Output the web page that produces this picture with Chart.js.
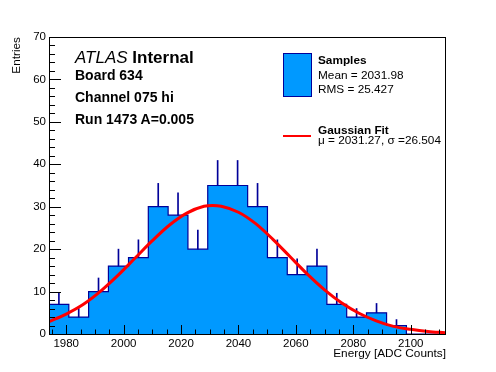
<!DOCTYPE html>
<html>
<head>
<meta charset="utf-8">
<script src="https://cdn.jsdelivr.net/npm/chart.js@4.4.1/dist/chart.umd.min.js"></script>
<style>
  html, body { margin: 0; padding: 0; background: #fff; }
  #wrap { position: relative; width: 496px; height: 372px; font-family: 'Liberation Sans', Arial, sans-serif; color: #000; }
  #wrap canvas { position: absolute; left: 0; top: 0; }
  .txt { position: absolute; white-space: nowrap; line-height: 1; }
  .b { font-weight: bold; }
  .sw { position: absolute; box-sizing: border-box; }
</style>
</head>
<body>
<div id="wrap">
  <canvas id="hist" width="496" height="372"></canvas>

  <!-- ATLAS labels -->
  <div class="txt" style="left:75px; top:48.5px; font-size:17px"><i>ATLAS</i> <b>Internal</b></div>
  <div class="txt b" style="left:75px; top:68px; font-size:14px">Board 634</div>
  <div class="txt b" style="left:75px; top:90px; font-size:14px">Channel 075 hi</div>
  <div class="txt b" style="left:75px; top:112px; font-size:14px">Run 1473 A=0.005</div>

  <!-- legend -->
  <div class="sw" style="left:283px; top:53px; width:29px; height:44px; background:#0099ff; border:1px solid #000099"></div>
  <div class="txt b" style="left:318px; top:55px; font-size:11.8px">Samples</div>
  <div class="txt" style="left:318px; top:70px; font-size:11.8px">Mean = 2031.98</div>
  <div class="txt" style="left:318px; top:84px; font-size:11.8px">RMS = 25.427</div>
  <div class="sw" style="left:283px; top:135px; width:28px; height:2px; background:#ff0000"></div>
  <div class="txt b" style="left:318px; top:125px; font-size:11.8px">Gaussian Fit</div>
  <div class="txt" style="left:318px; top:135px; font-size:11.8px">μ = 2031.27, σ =26.504</div>
</div>

<script>
// ── data ────────────────────────────────────────────────
const binEdges = [1974.0, 1980.9, 1987.8, 1994.7, 2001.7, 2008.6, 2015.5, 2022.4, 2029.3, 2036.2,
                  2043.2, 2050.1, 2057.0, 2063.9, 2070.8, 2077.7, 2084.6, 2091.6, 2098.5, 2105.4, 2112.3];
const counts   = [7, 4, 10, 16, 18, 30, 28, 20, 35, 35, 30, 18, 14, 16, 7, 4, 5, 2, 0, 0];
const errUp    = [2.6, 2.0, 3.2, 4.0, 4.2, 5.5, 5.3, 4.5, 5.9, 5.9, 5.5, 4.2, 3.7, 4.0, 2.6, 2.0, 2.2, 1.4, 0, 0];

// Gaussian fit curve
const fitX = [1974, 1980, 1986, 1992, 1998, 2004, 2010, 2016, 2022, 2028, 2031, 2034, 2040, 2046,
              2052, 2058, 2064, 2070, 2076, 2082, 2088, 2094, 2100, 2106, 2112];
const fitY = [2.9, 4.7, 7.0, 10.1, 13.8, 17.9, 22.0, 25.7, 28.5, 30.1, 30.3, 30.1, 28.7, 26.0,
              22.3, 18.2, 14.1, 10.4, 7.3, 4.9, 3.1, 1.8, 1.1, 0.6, 0.3];

const xTicks = [1980, 2000, 2020, 2040, 2060, 2080, 2100];
const yTicks = [0, 10, 20, 30, 40, 50, 60, 70];

const X_MIN = 1974, X_MAX = 2112.3;
const Y_MIN = 0, Y_MAX = 70;

const FILL  = '#0099ff';
const LINE  = '#000099';
const FONT  = "'Liberation Sans', Arial, sans-serif";

// histogram outline: left edge of each bin, plus closing right edge
const stepPts = counts.map((c, i) => ({ x: binEdges[i], y: c }));
stepPts.push({ x: binEdges[binEdges.length - 1], y: counts[counts.length - 1] });

// error bars (upper half only, lower half hides in the fill)
const errPts = [];
counts.forEach((c, i) => {
  if (c > 0) errPts.push({ x: (binEdges[i] + binEdges[i + 1]) / 2, y: [c, c + errUp[i]] });
});

// ROOT style: frame + ticks drawn inside the frame
const rootAxes = {
  id: 'rootAxes',
  afterDatasetsDraw(chart) {
    const { ctx, chartArea: a, scales: { x, y } } = chart;
    ctx.save();
    ctx.strokeStyle = '#000';
    ctx.lineWidth = 1;
    ctx.beginPath();
    for (let v = Y_MIN; v <= Y_MAX; v += 2) {
      const py = Math.round(y.getPixelForValue(v)) + 0.5;
      const len = yTicks.includes(v) ? 12 : 6;
      ctx.moveTo(a.left, py); ctx.lineTo(a.left + len, py);
    }
    for (let v = 1975; v <= X_MAX; v += 5) {
      const px = Math.round(x.getPixelForValue(v)) + 0.5;
      const len = xTicks.includes(v) ? 9 : 4.5;
      ctx.moveTo(px, a.bottom); ctx.lineTo(px, a.bottom - len);
    }
    ctx.stroke();
    ctx.strokeRect(a.left + 0.5, a.top + 0.5, a.right - a.left - 1, a.bottom - a.top);
    ctx.restore();
  },
};

new Chart(document.getElementById('hist').getContext('2d'), {
  type: 'line',
  data: {
    datasets: [
      {
        label: 'Gaussian Fit',
        data: fitX.map((v, i) => ({ x: v, y: fitY[i] })),
        borderColor: '#ff0000',
        borderWidth: 3,
        pointRadius: 0,
        cubicInterpolationMode: 'monotone',
        fill: false,
        order: 0,
      },
      {
        type: 'bar',
        label: 'errors',
        data: errPts,
        backgroundColor: LINE,
        borderWidth: 0,
        barThickness: 1,
        order: 1,
      },
      {
        label: 'Samples',
        data: stepPts,
        stepped: true,
        borderColor: LINE,
        borderWidth: 1.2,
        backgroundColor: FILL,
        fill: 'origin',
        pointRadius: 0,
        order: 2,
      },
    ],
  },
  options: {
    responsive: false,
    animation: false,
    layout: { padding: { top: 37, right: 50, left: 0, bottom: 0 } },
    plugins: { legend: { display: false }, tooltip: { enabled: false } },
    scales: {
      x: {
        type: 'linear',
        min: X_MIN, max: X_MAX,
        offset: false,
        grid: { display: false, drawTicks: false },
        border: { display: false },
        afterBuildTicks: s => { s.ticks = xTicks.map(v => ({ value: v })); },
        afterFit: s => { s.height = 38; },
        ticks: {
          color: '#000', font: { family: FONT, size: 11.5 }, padding: 3,
          maxRotation: 0, autoSkip: false, callback: v => String(v),
        },
        title: {
          display: true, text: 'Energy [ADC Counts]', align: 'end', color: '#000',
          font: { family: FONT, size: 11.8 }, padding: { top: 0, bottom: 11 },
        },
      },
      y: {
        min: Y_MIN, max: Y_MAX,
        grid: { display: false, drawTicks: false },
        border: { display: false },
        afterBuildTicks: s => { s.ticks = yTicks.map(v => ({ value: v })); },
        afterFit: s => { s.width = 49; },
        ticks: { color: '#000', font: { family: FONT, size: 11.5 }, padding: 3, callback: v => String(v) },
        title: {
          display: true, text: 'Entries', align: 'end', color: '#000',
          font: { family: FONT, size: 11.8 }, padding: { top: 10, bottom: 0 },
        },
      },
    },
  },
  plugins: [rootAxes],
});
</script>
</body>
</html>
